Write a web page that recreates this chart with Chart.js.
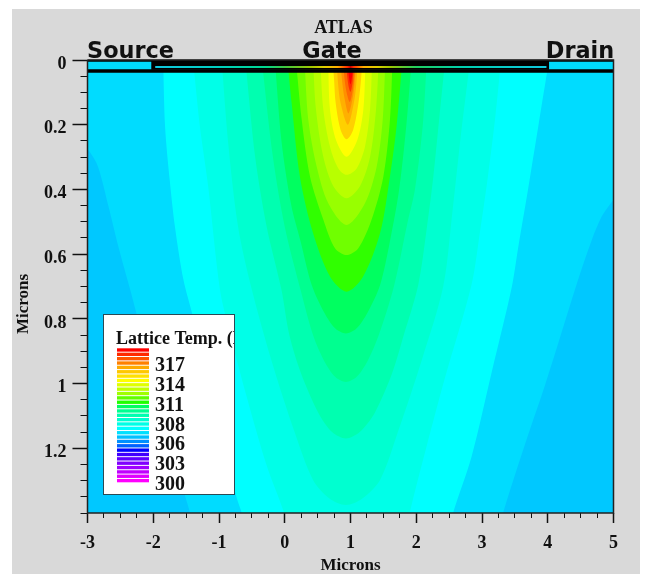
<!DOCTYPE html>
<html>
<head>
<meta charset="utf-8">
<title>ATLAS</title>
<script src="https://cdn.jsdelivr.net/npm/chart.js@4"></script>
<style>
  html, body { margin: 0; padding: 0; background: #fff; }
  #wrap { position: relative; width: 651px; height: 574px; overflow: hidden; }
  #sheet { position: absolute; left: 12px; top: 9px; width: 628px; height: 565px; background: #d9d9d9; }
  canvas { position: absolute; left: 0; top: 0; filter: blur(0.45px); }
</style>
</head>
<body>
<div id="wrap"><div id="sheet"></div><canvas id="atlasChart" width="651" height="574"></canvas></div>
<script>
// contour outlines, [micron x, micron depth], outermost first
// the ones that leave the plot run on a little past its edge and get clipped there
var plotBox = [[-3, 0], [5, 0], [5, 1.4], [-3, 1.4]];
var coolLeft = [[-3.05, 0.27], [-2.97, 0.283], [-2.84, 0.33], [-2.68, 0.453], [-2.53, 0.577], [-2.35, 0.71], [-1.95, 1.02], [-1.52, 1.344], [-1.44, 1.4], [-1.41, 1.44], [-3.1, 1.44]];
var coolRight = [[5.05, 0.42], [4.95, 0.445], [4.82, 0.484], [4.67, 0.556], [4.46, 0.68], [3.96, 1.004], [3.65, 1.19], [3.32, 1.4], [3.28, 1.44], [5.1, 1.44]];
var level2 = [[-1.85, 0], [-1.82, 0.206], [-1.75, 0.37], [-1.67, 0.515], [-1.54, 0.68], [-1.4, 0.79], [-1.1, 1.05], [-0.73, 1.354], [-0.655, 1.4], [-0.62, 1.44], [2.53, 1.44], [2.56, 1.4], [2.84, 1.227], [3.15, 0.963], [3.45, 0.705], [3.55, 0.58], [3.7, 0.4], [3.86, 0.2], [4.02, 0]];
var level3 = [[-1.395, 0], [-1.29, 0.206], [-1.165, 0.39], [-0.985, 0.71], [-0.84, 0.84], [-0.58, 1.04], [-0.28, 1.25], [-0.01, 1.4], [0.02, 1.44], [1.87, 1.44], [1.9, 1.4], [2.15, 1.2], [2.44, 0.98], [2.84, 0.695], [2.97, 0.53], [3.09, 0.36], [3.2, 0.18], [3.29, 0]];
var level4 = [[-0.96, 0], [-0.86, 0.257], [-0.71, 0.515], [-0.5, 0.71], [-0.2, 0.93], [0.15, 1.15], [0.43, 1.298], [0.68, 1.355], [0.93, 1.375], [1.18, 1.355], [1.45, 1.298], [1.72, 1.15], [2.08, 0.93], [2.41, 0.7], [2.55, 0.47], [2.68, 0.23], [2.82, 0]];
var level5 = [[-0.6, 0], [-0.45, 0.3], [-0.275, 0.515], [-0.05, 0.71], [0.07, 0.85], [0.25, 0.97], [0.51, 1.09], [0.72, 1.15], [0.93, 1.17], [1.14, 1.15], [1.37, 1.09], [1.63, 0.97], [1.81, 0.85], [2.03, 0.695], [2.16, 0.52], [2.26, 0.36], [2.35, 0.18], [2.44, 0]];
var level6 = [[-0.35, 0], [-0.18, 0.3], [0, 0.515], [0.24, 0.71], [0.43, 0.85], [0.6, 0.93], [0.77, 0.98], [0.93, 0.995], [1.09, 0.98], [1.26, 0.93], [1.43, 0.85], [1.66, 0.7], [1.87, 0.5], [1.98, 0.4], [2.1, 0.2], [2.16, 0]];
var level7 = [[-0.15, 0], [-0.05, 0.25], [0.1, 0.45], [0.24, 0.56], [0.41, 0.695], [0.6, 0.78], [0.77, 0.83], [0.93, 0.845], [1.09, 0.83], [1.26, 0.78], [1.45, 0.695], [1.6, 0.56], [1.74, 0.4], [1.85, 0.2], [1.93, 0]];
var level8 = [[0.04, 0], [0.105, 0.134], [0.23, 0.36], [0.43, 0.535], [0.69, 0.67], [0.94, 0.716], [1.19, 0.67], [1.45, 0.535], [1.6, 0.36], [1.7, 0.206], [1.79, 0]];
var level9 = [[0.17, 0], [0.258, 0.185], [0.384, 0.36], [0.587, 0.494], [0.764, 0.582], [0.94, 0.603], [1.119, 0.582], [1.32, 0.494], [1.5, 0.36], [1.6, 0.185], [1.64, 0]];
var level10 = [[0.3, 0], [0.358, 0.185], [0.486, 0.33], [0.662, 0.443], [0.94, 0.51], [1.22, 0.443], [1.398, 0.33], [1.49, 0.185], [1.53, 0]];
var level11 = [[0.43, 0], [0.475, 0.154], [0.587, 0.3], [0.739, 0.39], [0.94, 0.427], [1.144, 0.39], [1.297, 0.3], [1.388, 0.154], [1.43, 0]];
var level12 = [[0.54, 0], [0.587, 0.154], [0.688, 0.268], [0.815, 0.335], [0.94, 0.355], [1.094, 0.335], [1.22, 0.268], [1.297, 0.154], [1.33, 0]];
var level13 = [[0.66, 0], [0.688, 0.154], [0.779, 0.247], [0.94, 0.299], [1.104, 0.247], [1.195, 0.154], [1.23, 0]];
var level14 = [[0.73, 0], [0.75, 0.06], [0.775, 0.134], [0.85, 0.216], [0.94, 0.245], [1.04, 0.216], [1.12, 0.134], [1.16, 0.06], [1.18, 0]];
var level15 = [[0.79, 0], [0.81, 0.07], [0.85, 0.134], [0.96, 0.2], [1.05, 0.134], [1.09, 0.07], [1.11, 0]];
var level16 = [[0.85, 0], [0.87, 0.06], [0.91, 0.12], [0.97, 0.165], [1.04, 0.11], [1.07, 0.05], [1.09, 0]];
var level17 = [[0.89, 0], [0.905, 0.05], [0.94, 0.1], [0.99, 0.13], [1.04, 0.085], [1.06, 0.04], [1.07, 0]];
var level18 = [[0.93, 0], [0.945, 0.04], [0.97, 0.08], [1.0, 0.098], [1.03, 0.07], [1.045, 0.03], [1.055, 0]];
var level19 = [[0.96, 0], [0.97, 0.04], [1.0, 0.075], [1.03, 0.04], [1.04, 0]];

var contourShapes = [coolLeft, coolRight, level2, level3, level4, level5, level6, level7, level8, level9, level10,
  level11, level12, level13, level14, level15, level16, level17, level18, level19];
var contourColors = ['#00c8ff', '#00c8ff', '#00ffff', '#00ffe8', '#00ffd0', '#00ffb0', '#00ff90', '#00ff60', '#30ff00', '#70ff00', '#98ff00',
  '#b8ff00', '#d8ff00', '#ffff00', '#ffd000', '#ffb000', '#ff9000', '#ff6a00', '#ff3000', '#ff0000'];
var baseColor = '#00dcff';

// device drawn along the surface
var surfaceLine = [[-3, 0.002], [5, 0.002]];
var oxideLine = [[-3, 0.034], [5, 0.034]];
var gateBlock = [[-2.03, 0], [4.02, 0], [4.02, 0.03], [-2.03, 0.03]];
var gateStrip = [[-1.97, 0.0216], [3.98, 0.0216]];
var stripX = [-1.97, -1, -0.3, 0, 0.4, 0.6, 0.8, 0.95, 1.0, 1.05, 1.2, 1.4, 1.6, 2, 2.7, 3.98];
var stripColors = ['#10c8e0', '#00d0c0', '#00d890', '#40c840', '#a0c800', '#e0d000', '#ffb000', '#ff3000', '#c80000', '#ff3000', '#ffb000', '#e0d000', '#a0c800', '#20d060', '#00d0b0', '#10c8e0'];

var xTicks = [-3, -2, -1, 0, 1, 2, 3, 4, 5];
var yTicks = [0, 0.2, 0.4, 0.6, 0.8, 1, 1.2];
var yTickLabels = ['0', '0.2', '0.4', '0.6', '0.8', '1', '1.2'];

var legendLabels = ['317', '314', '311', '308', '306', '303', '300'];
var legendColors = ['#ff0000', '#ff2a00', '#ff5500', '#ff8000', '#ffaa00', '#ffc800', '#ffe000', '#ffff00', '#e0ff00', '#c0ff00', '#a0ff00',
  '#60ff00', '#20ff00', '#00ff60', '#00ff90', '#00ffb0', '#00ffd0', '#00ffe6', '#00ffff', '#00e0ff', '#00c0ff', '#0090ff', '#0060ff',
  '#0000ff', '#4000ff', '#6000ff', '#8000ff', '#a000ff', '#c000ff', '#e000ff', '#ff00ff'];

var serif = '"Liberation Serif", serif';
var sans = '"DejaVu Sans", sans-serif';

function toPoints(list) {
  return list.map(function (p) { return { x: p[0], y: p[1] }; });
}

function shapeSet(list, color, tension) {
  return {
    data: toPoints(list), showLine: true, fill: 'shape', backgroundColor: color,
    borderWidth: 0, pointRadius: 0, tension: tension, capBezierPoints: false
  };
}

function strokeSet(list, color, width) {
  return { data: toPoints(list), showLine: true, fill: false, borderColor: color, borderWidth: width, pointRadius: 0, clip: false };
}

function stripGradient(ctx) {
  var chart = ctx.chart;
  if (!chart.chartArea) return stripColors[0];
  var s = chart.scales.x;
  var a = s.getPixelForValue(stripX[0]);
  var b = s.getPixelForValue(stripX[stripX.length - 1]);
  var g = chart.ctx.createLinearGradient(a, 0, b, 0);
  stripX.forEach(function (v, n) {
    g.addColorStop((s.getPixelForValue(v) - a) / (b - a), stripColors[n]);
  });
  return g;
}

// first dataset ends up on top, so the frame and device come first
var datasets = [
  strokeSet(plotBox.concat([plotBox[0]]), '#222222', 1.5),
  strokeSet(surfaceLine, '#000000', 2),
  strokeSet(oxideLine, '#000000', 3.5),
  strokeSet(gateStrip, stripGradient, 2.2),
  shapeSet(gateBlock, '#000000', 0)
];
for (var i = contourShapes.length - 1; i >= 0; i--) {
  datasets.push(shapeSet(contourShapes[i], contourColors[i], 0.3));
}
datasets.push(shapeSet(plotBox, baseColor, 0));

var overlayText = {
  id: 'overlayText',
  afterDraw: function (chart) {
    var c = chart.ctx;
    c.save();
    c.fillStyle = '#111';
    c.textBaseline = 'alphabetic';
    c.textAlign = 'center';
    c.font = 'bold 18px ' + serif;
    c.fillText('ATLAS', 343.5, 33);
    c.font = 'bold 22.4px ' + sans;
    c.fillText('Source', 130.5, 58);
    c.fillText('Gate', 332, 58);
    c.fillText('Drain', 580, 58);

    c.save();
    c.translate(27.5, 304);
    c.rotate(-Math.PI / 2);
    c.font = 'bold 17px ' + serif;
    c.fillText('Microns', 0, 0);
    c.restore();

    // legend box
    c.fillStyle = '#fff';
    c.fillRect(103.5, 314.5, 131, 180);
    c.strokeStyle = '#2a4a55';
    c.lineWidth = 1;
    c.strokeRect(103.5, 314.5, 131, 180);
    c.save();
    c.beginPath();
    c.rect(104, 315, 130, 179);
    c.clip();
    c.textAlign = 'left';
    c.fillStyle = '#111';
    c.font = 'bold 18px ' + serif;
    c.fillText('Lattice Temp. (K)', 116, 344);
    c.restore();
    var h = 135 / legendColors.length;
    legendColors.forEach(function (col, n) {
      c.fillStyle = col;
      c.fillRect(117, 348.3 + n * h, 32, h - 1);
    });
    c.textAlign = 'left';
    c.fillStyle = '#111';
    c.font = 'bold 20px ' + serif;
    legendLabels.forEach(function (t, n) {
      c.fillText(t, 155, 371 + n * 19.85);
    });
    c.restore();
  }
};

new Chart(document.getElementById('atlasChart'), {
  type: 'scatter',
  data: { datasets: datasets },
  options: {
    responsive: false,
    animation: false,
    layout: { padding: { left: 0, top: 60, right: 37.5, bottom: 0 } },
    plugins: { legend: { display: false }, tooltip: { enabled: false } },
    scales: {
      x: {
        type: 'linear', position: 'bottom', min: -3, max: 5,
        afterBuildTicks: function (s) { s.ticks = xTicks.map(function (v) { return { value: v }; }); },
        afterFit: function (s) { s.height = 61; },
        grid: { drawOnChartArea: false, tickLength: 10, tickColor: '#111', tickWidth: 1.5 },
        border: { display: false },
        ticks: { color: '#111', font: { family: serif, weight: 'bold', size: 18 }, padding: 10, maxRotation: 0 },
        title: { display: true, text: 'Microns', color: '#111', font: { family: serif, weight: 'bold', size: 17, lineHeight: 1 }, padding: 0 }
      },
      y: {
        type: 'linear', position: 'left', min: 0, max: 1.4, reverse: true,
        afterBuildTicks: function (s) { s.ticks = yTicks.map(function (v) { return { value: v }; }); },
        afterFit: function (s) { s.width = 87.5; },
        grid: { drawOnChartArea: false, tickLength: 15, tickColor: '#111', tickWidth: 1.5 },
        border: { display: false },
        ticks: {
          color: '#111', font: { family: serif, weight: 'bold', size: 18 }, padding: 6, labelOffset: 4,
          callback: function (v, n) { return yTickLabels[n]; }
        }
      },
      xMinor: {
        type: 'linear', axis: 'x', position: { y: 1.4 }, min: -3, max: 5,
        grid: { drawOnChartArea: false, tickLength: 5, tickColor: '#111', tickWidth: 1 },
        border: { display: false },
        ticks: { stepSize: 0.25, display: false, autoSkip: false }
      },
      yMinor: {
        type: 'linear', axis: 'y', position: { x: -3 }, min: 0, max: 1.4, reverse: true,
        grid: { drawOnChartArea: false, tickLength: 7.5, tickColor: '#111', tickWidth: 1 },
        border: { display: false },
        ticks: { stepSize: 0.05, display: false, autoSkip: false }
      }
    }
  },
  plugins: [overlayText]
});
</script>
</body>
</html>
